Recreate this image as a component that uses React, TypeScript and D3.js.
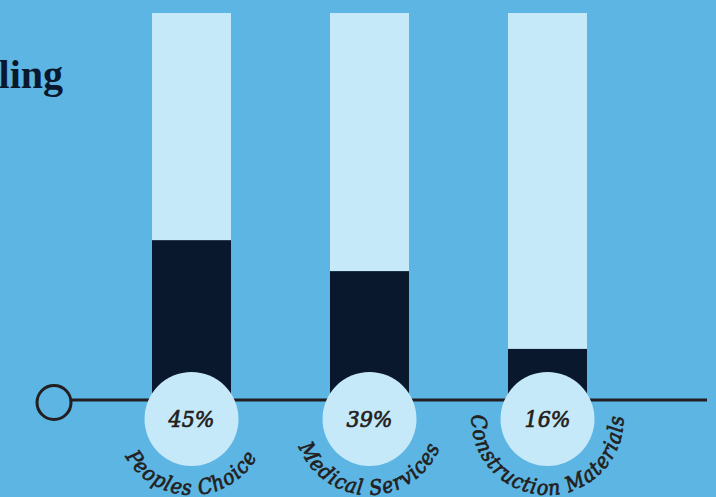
import React from "react";
import * as d3 from "d3";

const categories = ["Peoples Choice", "Medical Services", "Construction Materials"];
const shareLabels = [45, 39, 16];
const fillValues = [41.3, 33.3, 13.2];
const maxValue = 100;
const title = "Polling";

const W = 716;
const H = 497;
const BG = "#5cb5e3";
const LIGHT = "#c6e9f9";
const DARK = "#0a182d";
const INK = "#231f20";
const LABEL_FONT = "'DejaVu Serif Condensed', 'DejaVu Serif', serif";

export default function App() {
  const x = d3.scalePoint<string>().domain(categories).range([191.5, 547.5]).padding(0);
  const y = d3.scaleLinear().domain([0, maxValue]).range([400, 13]);
  const barW = 79;
  const cy = 419;
  const r = 47;
  const R = 76;

  const arcPath = (cx: number, c: number, rr: number) =>
    `M ${cx} ${c - rr} A ${rr} ${rr} 0 0 0 ${cx} ${c + rr} A ${rr} ${rr} 0 0 0 ${cx} ${c - rr}`;

  return (
    <svg
      width={W}
      height={H}
      style={{ position: "absolute", left: 0, top: 0 }}
      xmlns="http://www.w3.org/2000/svg"
    >
      <rect x={0} y={0} width={W} height={H} fill={BG} />
      <text
        x={63}
        y={88}
        textAnchor="end"
        fontFamily="'Liberation Serif', serif"
        fontWeight={700}
        fontSize={40}
        fill={DARK}
      >
        {title}
      </text>
      {categories.map((c, i) => {
        const cx = x(c) as number;
        return (
          <g key={c}>
            <rect x={cx - barW / 2} y={y(maxValue)} width={barW} height={y(0) - y(maxValue)} fill={LIGHT} />
            <rect x={cx - barW / 2} y={y(fillValues[i])} width={barW} height={y(0) - y(fillValues[i])} fill={DARK} />
          </g>
        );
      })}
      <line x1={72} x2={707} y1={y(0)} y2={y(0)} stroke={INK} strokeWidth={3} />
      <circle cx={54} cy={402.5} r={17} fill="none" stroke={INK} strokeWidth={3} />
      {categories.map((c, i) => {
        const cx = x(c) as number;
        const id = `arc-${i}`;
        return (
          <g key={c + "-lab"}>
            <circle cx={cx} cy={cy} r={r} fill={LIGHT} />
            <text
              x={cx}
              y={cy + 8}
              textAnchor="middle"
              fontFamily={LABEL_FONT}
              fontStretch="condensed"
              fontStyle="italic"
              fontWeight={400}
              fontSize={23}
              fill={INK}
              stroke={INK}
              strokeWidth={0.7}
            >
              {shareLabels[i]}%
            </text>
            <path id={id} d={arcPath(cx, cy, R)} fill="none" />
            <text
              fontFamily={LABEL_FONT}
              fontStretch="condensed"
              fontStyle="italic"
              fontWeight={400}
              fontSize={21}
              letterSpacing={1.1}
              fill={INK}
              stroke={INK}
              strokeWidth={0.7}
            >
              <textPath href={`#${id}`} startOffset="50%" textAnchor="middle">
                {c}
              </textPath>
            </text>
          </g>
        );
      })}
    </svg>
  );
}
